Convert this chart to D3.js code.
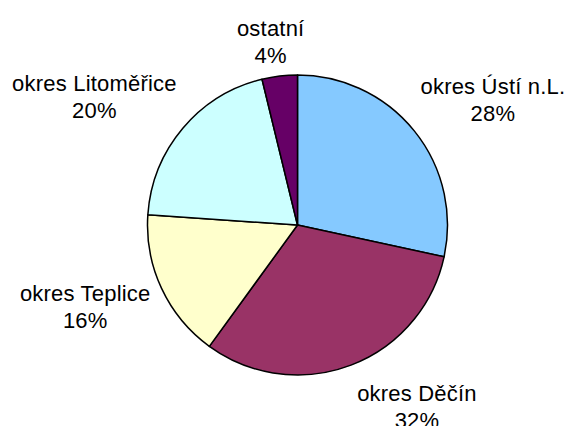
<!DOCTYPE html>
<html>
<head>
<meta charset="utf-8">
<script src="https://cdn.jsdelivr.net/npm/d3@7"></script>
<style>
  body { margin: 0; background: #fff; }
  svg { display: block; }
</style>
</head>
<body>
<svg id="chart" width="570" height="426"></svg>
<script>
// data
var districts = ["okres Ústí n.L.", "okres Děčín", "okres Teplice", "okres Litoměřice", "ostatní"];
var shares = [28.4, 31.6, 16.1, 20.1, 3.8];
var colors = ["#85c9ff", "#993366", "#ffffcc", "#ccffff", "#660066"];

var w = 570, h = 426;
var cx = 297.5, cy = 225, r = 150;

var svg = d3.select("#chart");
var g = svg.append("g").attr("transform", "translate(" + cx + "," + cy + ")");

var data = districts.map(function (d, i) { return {name: d, value: shares[i], color: colors[i]}; });
var total = d3.sum(shares);

var pie = d3.pie().sort(null).value(function (d) { return d.value; });
var arc = d3.arc().innerRadius(0).outerRadius(r);
var arcs = pie(data);

g.selectAll("path.slice")
  .data(arcs)
  .enter().append("path")
  .attr("class", "slice")
  .attr("d", arc)
  .attr("fill", function (d) { return d.data.color; })
  .attr("stroke", "#000")
  .attr("stroke-width", 1.5)
  .attr("stroke-linejoin", "round");

// labels outside, placed roughly like excel does
arcs.forEach(function (d) {
  var a = (d.startAngle + d.endAngle) / 2;
  var sx = Math.sin(a), sy = -Math.cos(a);
  var gap = 8 + 10 * Math.max(0, sy);
  var px = (r + gap) * sx, py = (r + gap) * sy;

  var t = g.append("text")
    .attr("font-family", "'Liberation Sans', Arial, sans-serif")
    .attr("font-size", 22)
    .attr("letter-spacing", 0.2)
    .attr("fill", "#000")
    .attr("text-anchor", "middle");
  t.append("tspan").attr("x", 0).attr("dy", 0).text(d.data.name);
  t.append("tspan").attr("x", 0).attr("dy", 27).text(Math.round(d.data.value / total * 100) + "%");

  var bb = t.node().getBBox();
  var bx, by; // box centre
  if (sx > 0.3) bx = px + bb.width / 2;
  else if (sx < -0.3) bx = px - bb.width / 2;
  else bx = px + sx * bb.width;
  if (sy < -0.5) by = py - bb.height / 2;
  else if (sy > 0.5) by = py + bb.height / 2;
  else by = py + sy * bb.height * 0.6;

  t.attr("transform", "translate(" + bx + "," + (by - (bb.y + bb.height / 2)) + ")");
});
</script>
</body>
</html>
